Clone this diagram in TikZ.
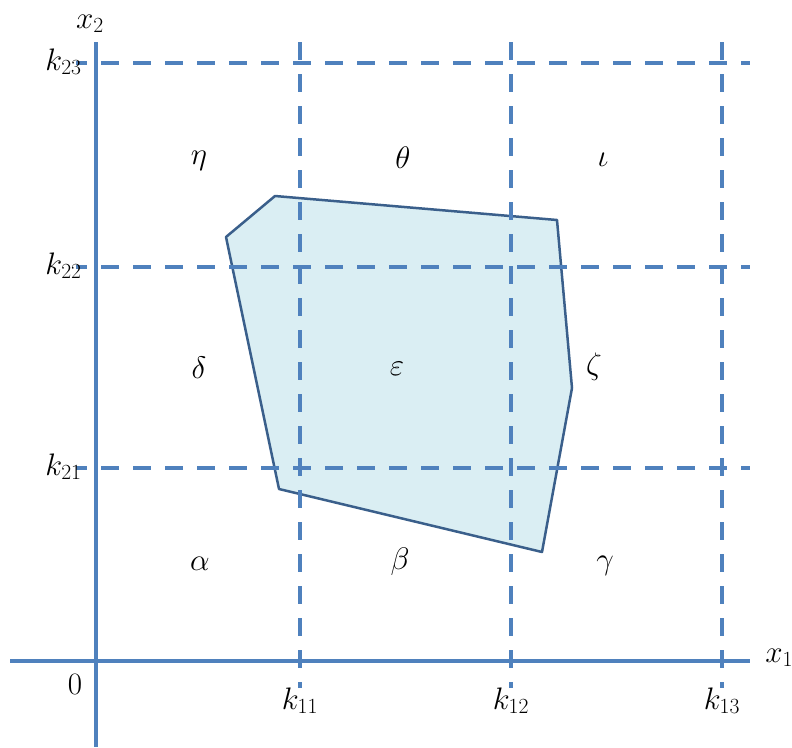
\documentclass[tikz,border=0pt]{standalone}
\usepackage{tikz}
\DeclareMathSizes{24.88}{24.88}{17.28}{12}
\definecolor{axisblue}{HTML}{4F81BD}
\definecolor{edgeblue}{HTML}{3A5F8B}
\definecolor{fillblue}{HTML}{DAEEF3}

\begin{document}
\begin{tikzpicture}[x=1pt, y=-1pt, font=\Huge,
  axis/.style={line width=4pt, axisblue},
  knot/.style={line width=4pt, axisblue, dash pattern=on 18pt off 14pt},
  region/.style={fill=fillblue, draw=edgeblue, line width=2.5pt, line join=round},
  lbl/.style={scale=1.25}]
  \useasboundingbox (0,0) rectangle (792,747);
  % the set, then the knot lines over it
  \draw[region] (275,196) -- (557,220) -- (572,388) -- (542,552) -- (279,489) -- (226,237) -- cycle;
  \foreach \x/\i in {300/1, 511/2, 722/3}{
    \draw[knot] (\x,42) -- (\x,688);
    \node[lbl, anchor=base, inner sep=0pt] (k1\i) at (\x,709) {$k_{1\i}$};
  }
  \foreach \y/\i in {63/3, 267/2, 468/1}{
    \draw[knot, dash phase=7pt] (76,\y) -- (750,\y);
    \node[lbl, anchor=base east, inner sep=0pt] (k2\i) at (82,\y+7) {$k_{2\i}$};
  }
  % axes
  \draw[axis] (10,661) -- (750,661);
  \draw[axis] (96,42) -- (96,747);
  \node[lbl, anchor=base west, inner sep=0pt] (xa) at (765,662) {$x_1$};
  \node[lbl, anchor=base, inner sep=0pt] (xb) at (90,28) {$x_2$};
  \node[lbl, anchor=base, inner sep=0pt] (o) at (75,694) {0};
  % cells
  \node[lbl] (eta) at (199,161) {$\eta$};
  \node[lbl] (theta) at (403,158) {$\theta$};
  \node[lbl] (iota) at (603,160) {$\iota$};
  \node[lbl] (delta) at (199,368) {$\delta$};
  \node[lbl] (eps) at (397,369) {$\varepsilon$};
  \node[lbl] (zeta) at (594,367) {$\zeta$};
  \node[lbl] (alpha) at (200,564) {$\alpha$};
  \node[lbl] (beta) at (400,562) {$\beta$};
  \node[lbl] (gamma) at (605,566) {$\gamma$};
\end{tikzpicture}
\end{document}
